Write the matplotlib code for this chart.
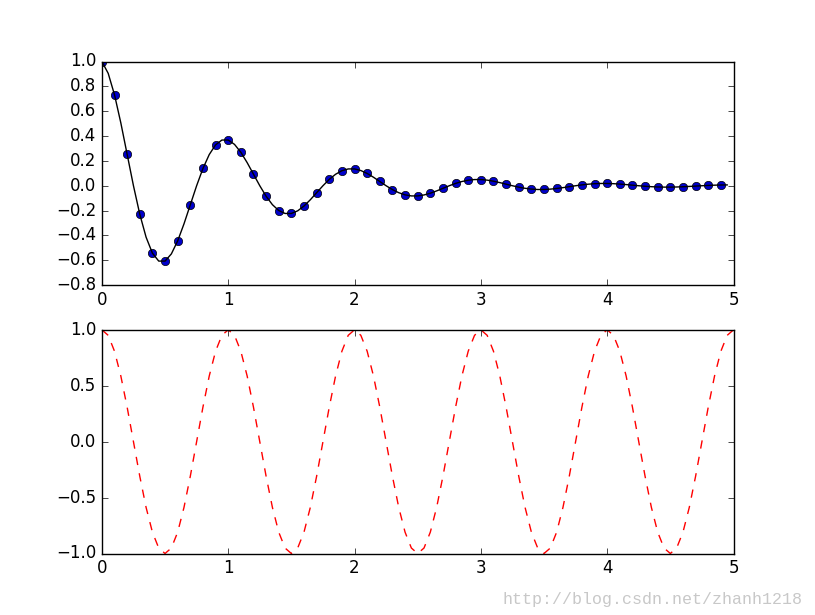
import numpy as np
import matplotlib
matplotlib.use('Agg')
import matplotlib.pyplot as plt

plt.style.use('classic')

# t 取 0 ~ 4.95, 間隔 0.05
t = np.arange(0, 100) * 0.05
t_cos = np.arange(0, 101) * 0.05  # 下圖畫到 5.0

# 上圖: 衰減振盪 (讀圖估計值)
damped = [
    1.000, 0.9047, 0.7320, 0.5059, 0.2530, 0.0, -0.2289, -0.4142, -0.5423, -0.6064,
    -0.6065, -0.5487, -0.4440, -0.3068, -0.1534, 0.0, 0.1388, 0.2512, 0.3289, 0.3678,
    0.3679, 0.3328, 0.2693, 0.1861, 0.0931, 0.0, -0.0842, -0.1524, -0.1995, -0.2231,
    -0.2231, -0.2019, -0.1633, -0.1129, -0.0564, 0.0, 0.0511, 0.0924, 0.1210, 0.1353,
    0.1353, 0.1224, 0.0990, 0.0685, 0.0342, 0.0, -0.0310, -0.0560, -0.0734, -0.0820,
    -0.0821, -0.0742, -0.0601, -0.0415, -0.0208, 0.0, 0.0188, 0.0340, 0.0445, 0.0498,
    0.0498, 0.0451, 0.0365, 0.0252, 0.0126, 0.0, -0.0114, -0.0206, -0.0270, -0.0302,
    -0.0302, -0.0273, -0.0221, -0.0153, -0.0076, 0.0, 0.0069, 0.0125, 0.0164, 0.0183,
    0.0183, 0.0166, 0.0134, 0.0093, 0.0046, 0.0, -0.0042, -0.0076, -0.0099, -0.0111,
    -0.0111, -0.0100, -0.0081, -0.0056, -0.0028, 0.0, 0.0025, 0.0046, 0.0060, 0.0067,
]

# 下圖: 餘弦 (讀圖估計值)
cosine = [
    1.0, 0.9511, 0.8090, 0.5878, 0.3090, 0.0, -0.3090, -0.5878, -0.8090, -0.9511,
    -1.0, -0.9511, -0.8090, -0.5878, -0.3090, 0.0, 0.3090, 0.5878, 0.8090, 0.9511,
    1.0, 0.9511, 0.8090, 0.5878, 0.3090, 0.0, -0.3090, -0.5878, -0.8090, -0.9511,
    -1.0, -0.9511, -0.8090, -0.5878, -0.3090, 0.0, 0.3090, 0.5878, 0.8090, 0.9511,
    1.0, 0.9511, 0.8090, 0.5878, 0.3090, 0.0, -0.3090, -0.5878, -0.8090, -0.9511,
    -1.0, -0.9511, -0.8090, -0.5878, -0.3090, 0.0, 0.3090, 0.5878, 0.8090, 0.9511,
    1.0, 0.9511, 0.8090, 0.5878, 0.3090, 0.0, -0.3090, -0.5878, -0.8090, -0.9511,
    -1.0, -0.9511, -0.8090, -0.5878, -0.3090, 0.0, 0.3090, 0.5878, 0.8090, 0.9511,
    1.0, 0.9511, 0.8090, 0.5878, 0.3090, 0.0, -0.3090, -0.5878, -0.8090, -0.9511,
    -1.0, -0.9511, -0.8090, -0.5878, -0.3090, 0.0, 0.3090, 0.5878, 0.8090, 0.9511,
    1.0,
]

fig = plt.figure(figsize=(8.15, 6.15), dpi=100)

plt.subplot(211)
plt.plot(t[::2], damped[::2], 'o', color='#0000cc', markeredgecolor='k')
plt.plot(t, damped, 'k')
plt.xlim(0, 5)
plt.ylim(-0.8, 1.0)

plt.subplot(212)
plt.plot(t_cos, cosine, 'r--')
plt.xlim(0, 5)
plt.ylim(-1, 1)

# 浮水印
fig.text(0.985, 0.025, 'http://blog.csdn.net/zhanh1218', ha='right', va='center',
         color='#c8c8c8', fontsize=12, family='Liberation Mono')

plt.savefig('out.png', dpi=100)
